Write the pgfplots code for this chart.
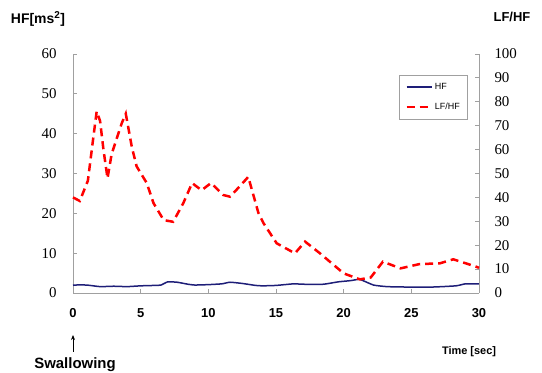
\documentclass[border=0pt]{standalone}
\usepackage{fontspec}
\setmainfont{Liberation Serif}
\setsansfont{Liberation Sans}
\usepackage{pgfplots}
\pgfplotsset{compat=1.18}
\usetikzlibrary{arrows.meta}
\definecolor{hfblue}{RGB}{30,30,120}
\definecolor{axgray}{RGB}{160,160,160}
\begin{document}
\begin{tikzpicture}
\pgfplotsset{
  common/.style={
    at={(73bp,80bp)}, anchor=south west, scale only axis,
    width=406bp, height=239bp, xmin=0, xmax=30,
    axis line style={axgray, line width=0.9pt, -},
    tick style={axgray, line width=0.8pt},
    major tick length=4bp,
    /pgf/number format/assume math mode=true,
    clip=false,
  }
}
\begin{axis}[common,
  ymin=0, ymax=60,
  axis x line*=bottom, axis y line*=left,
  xtick={0,5,...,30}, ytick={0,10,...,60},
  xticklabel style={font=\sffamily\bfseries\fontsize{13}{13}\selectfont, yshift=-12bp},
  yticklabel style={font=\fontsize{15}{15}\selectfont, xshift=-13bp},
]
\addplot[hfblue, line width=1.5bp, smooth, tension=0.3] coordinates {
(0,2.0) (1,2.0) (2,1.6) (3,1.7) (4,1.6) (5,1.8) (6,1.9) (6.5,2.0) (7,2.8) (7.7,2.7)
(8.5,2.2) (9,2.0) (10,2.1) (11,2.3) (11.6,2.7) (12.5,2.4) (13.5,1.9) (14,1.8) (15,1.9)
(16.3,2.3) (17,2.2) (18.5,2.2) (19.6,2.8) (20.5,3.1) (21.2,3.4) (22.2,2.0) (23.2,1.6)
(24.6,1.5) (26.6,1.5) (28.3,1.8) (29,2.3) (30,2.3)
};
\end{axis}
\begin{axis}[common,
  ymin=0, ymax=100,
  axis x line=none, axis y line*=right,
  ytick={0,10,...,100},
  yticklabel style={font=\fontsize{15}{15}\selectfont, xshift=12bp},
  legend style={at={(0.803,0.912)}, anchor=north west, draw=axgray, line width=0.8pt,
    font=\sffamily\fontsize{9}{9}\selectfont, inner xsep=6bp, inner ysep=6bp, row sep=8bp},
  legend cell align=left,
  legend image code/.code={\draw[#1] (0bp,0bp) -- (25bp,0bp);},
]
\addlegendimage{hfblue, line width=2bp}
\addlegendentry{HF}
\addplot[red, line width=2.5bp, dash pattern=on 8bp off 5bp] coordinates {
(0,40) (0.5,38.5) (1.1,47) (1.5,65) (1.75,76) (2.0,72) (2.25,60) (2.55,48) (2.85,58)
(3.25,65) (3.6,71) (3.9,75) (4.35,61) (4.7,53) (5.45,46) (5.95,37.6) (6.7,30.5)
(7.4,29.8) (8.15,37.6) (8.8,46) (9.5,43) (10.2,46) (11.1,41) (11.6,40.3) (12.3,44.5)
(12.95,48.6) (13.7,33.5) (14.1,29) (15.05,20.8) (16.4,16.6) (17.15,21.5) (18.25,16.6)
(20.0,8.2) (21.2,5.7) (22.0,6.5) (22.9,13.1) (24.2,10.3) (25.6,12.1) (27.1,12.4)
(28.1,14.1) (29.8,11) (30,10.5)
};
\addlegendentry{LF/HF}
\end{axis}
\node[font=\sffamily\bfseries\fontsize{14}{14}\selectfont] at (38bp,354bp) {HF[ms\textsuperscript{\fontsize{10}{10}\selectfont 2}]};
\node[font=\sffamily\bfseries\fontsize{13}{13}\selectfont] at (512bp,356bp) {LF/HF};
\draw[-{Stealth[length=5bp,width=4bp]}, line width=1pt] (73bp,21bp) -- (73bp,38bp);
\node[font=\sffamily\bfseries\fontsize{15}{15}\selectfont] at (75bp,8bp) {Swallowing};
\node[font=\sffamily\bfseries\fontsize{11}{11}\selectfont] at (469bp,21bp) {Time [sec]};
\pgfresetboundingbox
\path[use as bounding box] (0,0) rectangle (542bp,373bp);
\end{tikzpicture}
\end{document}
